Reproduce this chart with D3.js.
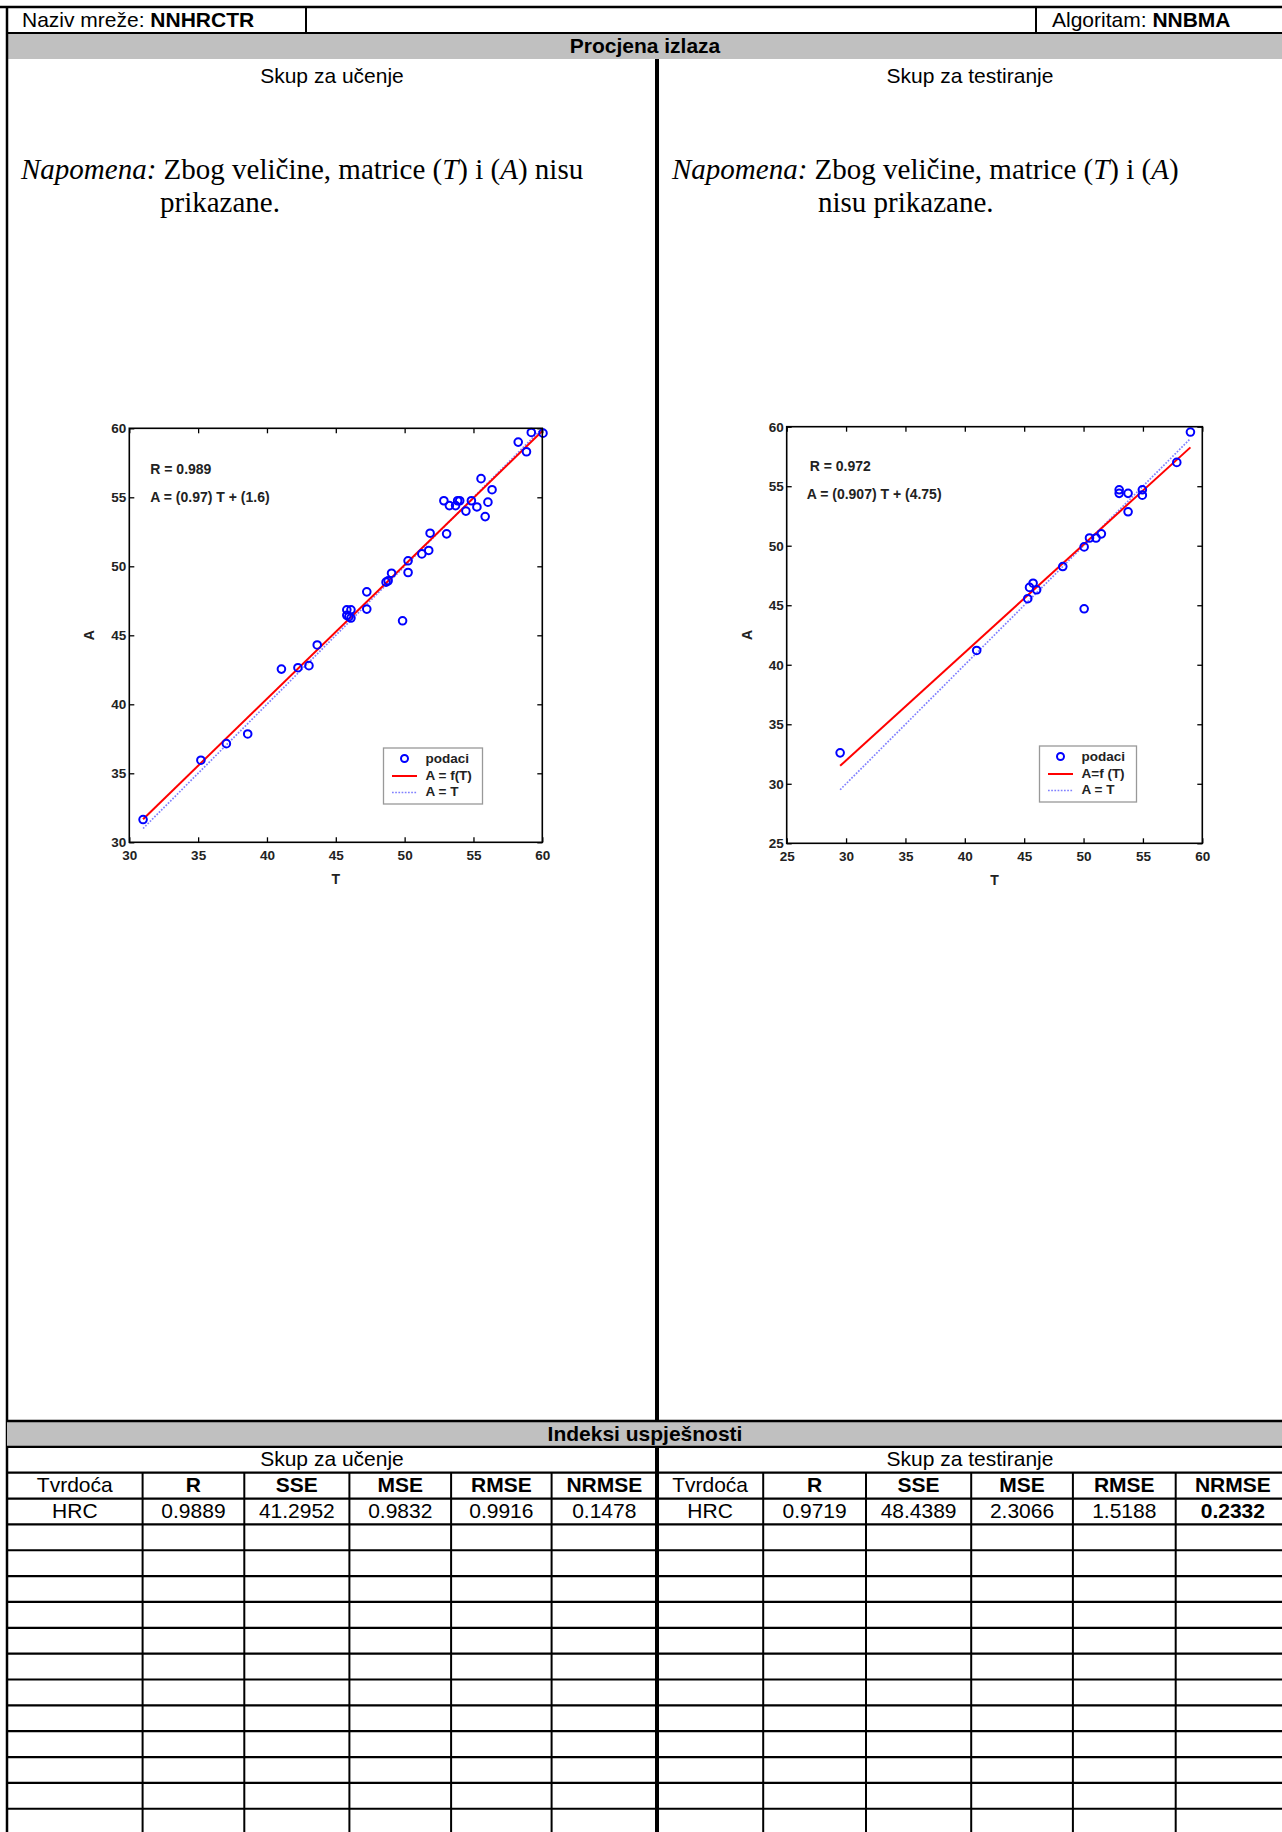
<!DOCTYPE html>
<html><head><meta charset="utf-8">
<script src="https://cdn.jsdelivr.net/npm/d3@7"></script>
<style>body{margin:0;background:#fff}svg{display:block}</style>
</head><body><div id="c"></div>
<script>
// ---------- data ----------
const networkName = "NNHRCTR";
const algorithmName = "NNBMA";
const trainT = [31.0,35.2,37.05,38.6,41.05,42.25,43.05,43.65,45.8,45.95,46.1,46.1,45.8,47.25,47.25,48.65,48.8,49.05,49.85,50.25,50.25,51.25,51.75,51.85,53.05,52.85,53.25,53.7,53.85,54.0,54.45,54.85,55.25,55.55,55.85,56.05,56.35,58.25,58.85,59.2,60.05];
const trainA = [31.65,35.95,37.15,37.85,42.55,42.65,42.8,44.3,46.85,46.35,46.85,46.25,46.45,48.15,46.9,48.85,48.95,49.5,46.05,50.4,49.55,50.9,51.15,52.4,52.35,54.75,54.4,54.4,54.75,54.75,54.0,54.75,54.3,56.35,53.6,54.65,55.55,59.0,58.3,59.7,59.65];
const testT = [29.5,41.0,45.3,45.45,45.75,46.05,48.25,50.05,50.05,50.5,51.05,51.5,53.0,53.0,53.75,53.75,54.95,54.95,57.85,59.0];
const testA = [32.6,41.2,45.55,46.5,46.85,46.3,48.25,44.7,49.9,50.65,50.65,51.0,54.7,54.4,54.4,52.85,54.7,54.25,57.0,59.55];
const trainFit = [0.97, 1.6];     // slope, intercept
const testFit = [0.907, 4.75];
const trainFitRange = [31, 60];
const testFitRange = [29.5, 59];
const trainR = "0.989", testR = "0.972";
const trainTicks = [30,35,40,45,50,55,60];
const testTicks = [25,30,35,40,45,50,55,60];
const trainLegend = ["podaci","A = f(T)","A = T"];
const testLegend = ["podaci","A=f (T)","A = T"];
const metricHeaders = ["Tvrdoća","R","SSE","MSE","RMSE","NRMSE"];
const trainRow = ["HRC","0.9889","41.2952","0.9832","0.9916","0.1478"];
const testRow = ["HRC","0.9719","48.4389","2.3066","1.5188","0.2332"];

// ---------- layout ----------
const W = 1282, H = 1832;
const SANS = "'Liberation Sans', Arial, sans-serif";
const SERIF = "'Liberation Serif', 'Times New Roman', serif";
const svg = d3.select("#c").append("svg").attr("width", W).attr("height", H);
const leftX = 7, midX = 657, rightEdge = 1290;

// header row
svg.append("rect").attr("x", leftX).attr("y", 33).attr("width", W - leftX).attr("height", 26).attr("fill", "#c0c0c0");
function hline(y, x1, x2, w) { svg.append("line").attr("x1", x1).attr("x2", x2).attr("y1", y).attr("y2", y).attr("stroke", "#000").attr("stroke-width", w); }
function vline(x, y1, y2, w) { svg.append("line").attr("x1", x).attr("x2", x).attr("y1", y1).attr("y2", y2).attr("stroke", "#000").attr("stroke-width", w); }
hline(7, 0, W, 2.5);
hline(33, leftX, W, 2);
vline(306, 7, 33, 2);
vline(1036, 7, 33, 2);
vline(leftX, 6, H, 2.5);
vline(midX, 59, 1421, 4);
vline(midX, 1447, H, 4);

function txt(x, y, s, opt = {}) {
  return svg.append("text").attr("x", x).attr("y", y).text(s)
    .attr("font-family", opt.family || SANS).attr("font-size", opt.size || 21)
    .attr("font-weight", opt.weight || "normal").attr("text-anchor", opt.anchor || "start")
    .attr("fill", opt.fill || "#000");
}
const t1 = svg.append("text").attr("x", 22).attr("y", 27).attr("font-family", SANS).attr("font-size", 21);
t1.append("tspan").text("Naziv mreže: ");
t1.append("tspan").attr("font-weight", "bold").text(networkName);
const t2 = svg.append("text").attr("x", 1052).attr("y", 27).attr("font-family", SANS).attr("font-size", 21);
t2.append("tspan").text("Algoritam: ");
t2.append("tspan").attr("font-weight", "bold").text(algorithmName);
txt(645, 53, "Procjena izlaza", {weight: "bold", anchor: "middle"});
txt(332, 83, "Skup za učenje", {anchor: "middle"});
txt(970, 83, "Skup za testiranje", {anchor: "middle"});

// Napomena notes
function note(x, y, parts) {
  const t = svg.append("text").attr("x", x).attr("y", y).attr("font-family", SERIF).attr("font-size", 29);
  parts.forEach(p => t.append("tspan").attr("font-style", p[1] ? "italic" : "normal").text(p[0]));
}
note(21, 179, [["Napomena:", 1], [" Zbog veličine, matrice (", 0], ["T", 1], [") i (", 0], ["A", 1], [") nisu", 0]]);
note(160, 212, [["prikazane.", 0]]);
note(672, 179, [["Napomena:", 1], [" Zbog veličine, matrice (", 0], ["T", 1], [") i (", 0], ["A", 1], [")", 0]]);
note(818, 212, [["nisu prikazane.", 0]]);

// ---------- scatter plots ----------
function drawPlot(cfg) {
  const g = svg.append("g");
  const x = d3.scaleLinear().domain(cfg.domain).range([cfg.x0, cfg.x1]);
  const y = d3.scaleLinear().domain(cfg.domain).range([cfg.y1, cfg.y0]);
  const axStyle = sel => {
    sel.select(".domain").remove();
    sel.selectAll(".tick line").attr("stroke", "#000").attr("stroke-width", 1.3);
    sel.selectAll(".tick text").attr("font-family", SANS).attr("font-size", 13.5).attr("font-weight", "bold").attr("fill", "#222");
  };
  g.append("g").attr("transform", `translate(0,${cfg.y1})`)
    .call(d3.axisBottom(x).tickValues(cfg.ticks).tickSize(-5).tickPadding(8)).call(axStyle);
  g.append("g").attr("transform", `translate(${cfg.x0},0)`)
    .call(d3.axisLeft(y).tickValues(cfg.ticks).tickSize(-5).tickPadding(3)).call(axStyle);
  g.append("g").attr("transform", `translate(0,${cfg.y0})`)
    .call(d3.axisTop(x).tickValues(cfg.ticks).tickSize(-5).tickFormat("")).call(axStyle);
  g.append("g").attr("transform", `translate(${cfg.x1},0)`)
    .call(d3.axisRight(y).tickValues(cfg.ticks).tickSize(-5).tickFormat("")).call(axStyle);

  // identity line A = T
  g.append("line").attr("x1", x(cfg.fitRange[0])).attr("y1", y(cfg.fitRange[0]))
    .attr("x2", x(cfg.fitRange[1])).attr("y2", y(cfg.fitRange[1]))
    .attr("stroke", "#8080ff").attr("stroke-width", 1.7).attr("stroke-dasharray", "1.7,1.5");
  // fit line
  const f = t => cfg.fit[0] * t + cfg.fit[1];
  g.append("line").attr("x1", x(cfg.fitRange[0])).attr("y1", y(f(cfg.fitRange[0])))
    .attr("x2", x(cfg.fitRange[1])).attr("y2", y(f(cfg.fitRange[1])))
    .attr("stroke", "#ff0000").attr("stroke-width", 2);
  // points
  g.selectAll("circle.pt").data(cfg.T.map((t, i) => [t, cfg.A[i]])).join("circle")
    .attr("class", "pt").attr("cx", d => x(d[0])).attr("cy", d => y(d[1])).attr("r", 3.8)
    .attr("fill", "none").attr("stroke", "#0000ff").attr("stroke-width", 2);
  // frame
  g.append("rect").attr("x", cfg.x0).attr("y", cfg.y0).attr("width", cfg.x1 - cfg.x0).attr("height", cfg.y1 - cfg.y0)
    .attr("fill", "none").attr("stroke", "#000").attr("stroke-width", 1.6);
  // annotations
  const ann = (xx, yy, s) => g.append("text").attr("x", xx).attr("y", yy).text(s)
    .attr("font-family", SANS).attr("font-size", 14).attr("font-weight", "bold").attr("fill", "#222");
  ann(cfg.x0 + cfg.annDx, cfg.y0 + cfg.annDy, "R = " + cfg.R);
  ann(cfg.x0 + cfg.annDx2, cfg.y0 + cfg.annDy + 28, `A = (${cfg.fit[0]}) T + (${cfg.fit[1]})`);
  // axis labels
  g.append("text").attr("x", (cfg.x0 + cfg.x1) / 2).attr("y", cfg.y1 + 42).attr("text-anchor", "middle")
    .attr("font-family", SANS).attr("font-size", 14).attr("font-weight", "bold").attr("fill", "#222").text("T");
  g.append("text").attr("transform", `translate(${cfg.x0 - 35},${(cfg.y0 + cfg.y1) / 2}) rotate(-90)`).attr("text-anchor", "middle")
    .attr("font-family", SANS).attr("font-size", 14).attr("font-weight", "bold").attr("fill", "#222").text("A");
  // legend
  const lx = cfg.legX, ly = cfg.legY, lw = cfg.legW, lh = 56;
  const lg = g.append("g").attr("transform", `translate(${lx},${ly})`);
  lg.append("rect").attr("width", lw).attr("height", lh).attr("fill", "#fff").attr("stroke", "#999").attr("stroke-width", 1.3);
  lg.append("circle").attr("cx", 21).attr("cy", 10.5).attr("r", 3.5).attr("fill", "none").attr("stroke", "#0000ff").attr("stroke-width", 2);
  lg.append("line").attr("x1", 8.5).attr("x2", 33.5).attr("y1", 28).attr("y2", 28).attr("stroke", "#ff0000").attr("stroke-width", 2);
  lg.append("line").attr("x1", 8.5).attr("x2", 33.5).attr("y1", 44.5).attr("y2", 44.5).attr("stroke", "#8080ff").attr("stroke-width", 1.7).attr("stroke-dasharray", "1.7,1.5");
  cfg.legend.forEach((s, i) => lg.append("text").attr("x", 42).attr("y", 15 + i * 16.5).text(s)
    .attr("font-family", SANS).attr("font-size", 13.5).attr("font-weight", "bold").attr("fill", "#222"));
}
drawPlot({x0: 129.3, x1: 542.3, y0: 428.3, y1: 842.3, domain: [30, 60], ticks: trainTicks,
  T: trainT, A: trainA, fit: trainFit, fitRange: trainFitRange, R: trainR,
  annDx: 21, annDx2: 21, annDy: 46, legX: 383.5, legY: 748, legW: 99, legend: trainLegend});
drawPlot({x0: 786.7, x1: 1202.3, y0: 426.7, y1: 843.3, domain: [25, 60], ticks: testTicks,
  T: testT, A: testA, fit: testFit, fitRange: testFitRange, R: testR,
  annDx: 23, annDx2: 20, annDy: 44, legX: 1039.5, legY: 746, legW: 97, legend: testLegend});

// ---------- table ----------
const tTop = 1421, rowH = 25.85;
const colX = [leftX, 142.6, 244.3, 349.4, 451.1, 551.6, midX, 763.2, 866, 971.2, 1072.9, 1175.7, rightEdge];
svg.append("rect").attr("x", leftX).attr("y", tTop).attr("width", W - leftX).attr("height", rowH).attr("fill", "#c0c0c0");
txt(645, tTop + 20, "Indeksi uspješnosti", {weight: "bold", anchor: "middle"});
const nRows = Math.ceil((H - tTop) / rowH);
for (let k = 0; k <= nRows; k++) hline(tTop + k * rowH, leftX, W, k === 0 ? 2.6 : 2.2);
colX.forEach((cx, i) => { if (i !== 0 && i !== 6 && i !== 12) vline(cx, tTop + 2 * rowH, H, 2); });
txt(332, tTop + rowH + 19.5, "Skup za učenje", {anchor: "middle"});
txt(970, tTop + rowH + 19.5, "Skup za testiranje", {anchor: "middle"});
function cellRow(rowIdx, vals, offset, boldFn) {
  vals.forEach((v, i) => {
    const cx = (colX[offset + i] + colX[offset + i + 1]) / 2;
    txt(cx, tTop + rowIdx * rowH + 19.5, v, {anchor: "middle", weight: boldFn(i) ? "bold" : "normal"});
  });
}
cellRow(2, metricHeaders, 0, i => i > 0);
cellRow(2, metricHeaders, 6, i => i > 0);
cellRow(3, trainRow, 0, () => false);
cellRow(3, testRow, 6, i => i === 5);
</script></body></html>
